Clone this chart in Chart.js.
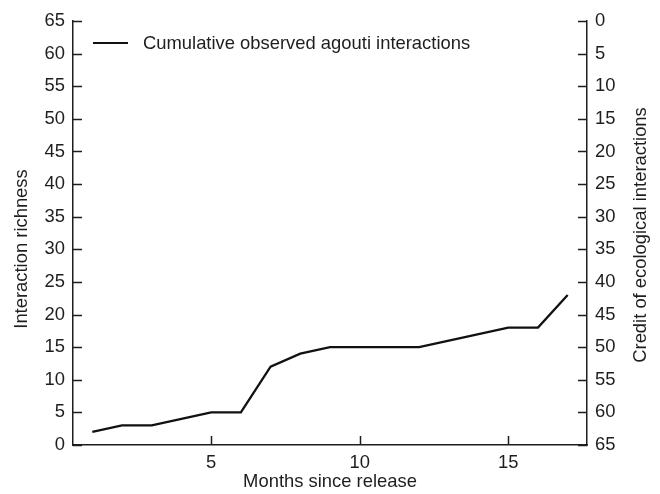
<!DOCTYPE html>
<html>
<head>
<meta charset="utf-8">
<script src="https://cdn.jsdelivr.net/npm/chart.js@4.4.0/dist/chart.umd.min.js"></script>
<style>
    html, body { margin: 0; padding: 0; background: #fff; }
    #wrap { width: 660px; height: 494px; }
</style>
</head>
<body>
<div id="wrap"><canvas id="chart" width="660" height="494"></canvas></div>
<script>
// Data
const months = [1, 2, 3, 4, 5, 6, 7, 8, 9, 10, 11, 12, 13, 14, 15, 16, 17];
const richness = [2, 3, 3, 4, 5, 5, 12, 14, 15, 15, 15, 15, 16, 17, 18, 18, 23];
const monthTicks = [5, 10, 15];
const seriesLabel = 'Cumulative observed agouti interactions';
const leftTitle = 'Interaction richness';
const rightTitle = 'Credit of ecological interactions';

const FONT = '"Liberation Sans", Arial, sans-serif';
const INK = '#1e1e1e';
const SIZE = 18.4;

// Ticks in this figure point inward, so draw them ourselves from the scales
const inwardTicks = {
    id: 'inwardTicks',
    afterDraw(chart) {
        const ctx = chart.ctx;
        const len = 9;
        const { x, y, y2 } = chart.scales;
        ctx.save();
        ctx.strokeStyle = INK;
        ctx.lineWidth = 1.5;
        ctx.beginPath();
        x.ticks.forEach(t => {
            const px = Math.round(x.getPixelForValue(t.value)) + 0.5;
            ctx.moveTo(px, x.top);
            ctx.lineTo(px, x.top - len);
        });
        y.ticks.forEach(t => {
            const py = Math.round(y.getPixelForValue(t.value)) + 0.5;
            ctx.moveTo(y.right, py);
            ctx.lineTo(y.right + len, py);
        });
        y2.ticks.forEach(t => {
            const py = Math.round(y2.getPixelForValue(t.value)) + 0.5;
            ctx.moveTo(y2.left, py);
            ctx.lineTo(y2.left - len, py);
        });
        ctx.stroke();

        // legend inside the plot area
        const area = chart.chartArea;
        const ly = area.top + 22;
        ctx.lineWidth = 2.2;
        ctx.strokeStyle = '#111';
        ctx.beginPath();
        ctx.moveTo(area.left + 20, ly);
        ctx.lineTo(area.left + 55, ly);
        ctx.stroke();
        ctx.fillStyle = INK;
        ctx.font = SIZE + 'px ' + FONT;
        ctx.textBaseline = 'middle';
        ctx.textAlign = 'left';
        ctx.fillText(seriesLabel, area.left + 70, ly + 1);

        // both vertical titles read bottom-to-top
        ctx.textAlign = 'center';
        [[leftTitle, y.left + 22, 249], [rightTitle, y2.right - 19, 235]].forEach(([txt, tx, ty]) => {
            ctx.save();
            ctx.translate(tx, ty);
            ctx.rotate(-Math.PI / 2);
            ctx.fillText(txt, 0, 0);
            ctx.restore();
        });
        ctx.restore();
    }
};

const tickFont = { family: FONT, size: SIZE };

new Chart(document.getElementById('chart'), {
    type: 'line',
    data: {
        datasets: [{
            label: seriesLabel,
            data: months.map((m, i) => ({ x: m, y: richness[i] })),
            borderColor: '#111',
            borderWidth: 2.3,
            pointRadius: 0,
            tension: 0,
            yAxisID: 'y'
        }]
    },
    options: {
        responsive: false,
        animation: false,
        devicePixelRatio: 1,
        layout: { padding: { top: 21, left: 0, right: 0, bottom: 0 } },
        plugins: {
            legend: { display: false },
            tooltip: { enabled: false }
        },
        scales: {
            x: {
                type: 'linear',
                min: 0.35,
                max: 17.65,
                afterBuildTicks: axis => { axis.ticks = monthTicks.map(v => ({ value: v })); },
                afterFit: axis => { axis.height = 49; },
                grid: { drawOnChartArea: false, drawTicks: false },
                border: { display: true, color: INK, width: 1.5 },
                ticks: { font: tickFont, color: INK, padding: 7, maxRotation: 0 },
                title: { display: true, text: 'Months since release', font: tickFont, color: INK, padding: { top: 0, bottom: 1 } }
            },
            y: {
                position: 'left',
                min: 0,
                max: 65,
                afterFit: axis => { axis.width = 73; },
                grid: { drawOnChartArea: false, drawTicks: false },
                border: { display: true, color: INK, width: 1.5 },
                ticks: { stepSize: 5, font: tickFont, color: INK, padding: 8 }
            },
            y2: {
                position: 'right',
                reverse: true,
                min: 0,
                max: 65,
                afterFit: axis => { axis.width = 73; },
                grid: { drawOnChartArea: false, drawTicks: false },
                border: { display: true, color: INK, width: 1.5 },
                ticks: { stepSize: 5, font: tickFont, color: INK, padding: 8 }
            }
        }
    },
    plugins: [inwardTicks]
});
</script>
</body>
</html>
